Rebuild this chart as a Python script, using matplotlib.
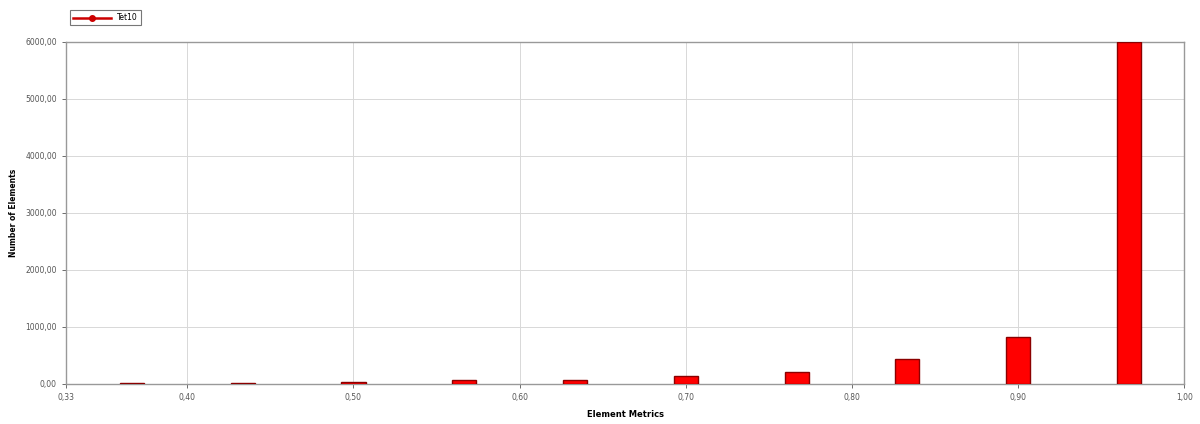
import matplotlib.pyplot as plt
from matplotlib.lines import Line2D
from matplotlib.ticker import FuncFormatter

# histogram of element quality (Tet10 mesh)
bin_centers = [0.3667, 0.4333, 0.5000, 0.5667, 0.6333, 0.7000, 0.7667, 0.8333, 0.9000, 0.9667]
counts = [15, 20, 30, 60, 65, 140, 210, 440, 826, 6000]
x_ticks = [0.327, 0.40, 0.50, 0.60, 0.70, 0.80, 0.90, 1.00]
y_ticks = [0, 1000, 2000, 3000, 4000, 5000, 6000]
series_name = "Tet10"


def comma_fmt(v, pos):
    return ("%.2f" % v).replace(".", ",")


fig = plt.figure(figsize=(12, 4.24), dpi=100)
ax = fig.add_axes([0.055, 0.095, 0.932, 0.806])

ax.bar(bin_centers, counts, width=0.0145, color="#ff0000",
       edgecolor="#8b0000", linewidth=1.0, zorder=3)

ax.set_xlim(0.327, 1.0)
ax.set_ylim(0, 6000)
ax.set_xticks(x_ticks)
ax.set_yticks(y_ticks)
ax.xaxis.set_major_formatter(FuncFormatter(comma_fmt))
ax.yaxis.set_major_formatter(FuncFormatter(comma_fmt))
ax.tick_params(labelsize=5.5, colors="#555555", length=3, width=0.6)

ax.grid(True, color="#d8d8d8", linewidth=0.7, zorder=0)
for s in ax.spines.values():
    s.set_color("#999999")
    s.set_linewidth(1.0)

ax.set_xlabel("Element Metrics", fontsize=6, fontweight="bold", labelpad=6)
ax.set_ylabel("Number of Elements", fontsize=5.5, fontweight="bold", labelpad=5)

handle = Line2D([], [], color="#cc0000", linewidth=1.8, marker="o", markersize=4)
leg = fig.legend([handle], [series_name], loc="upper left",
                 bbox_to_anchor=(0.055, 0.985), fontsize=5.5, frameon=True,
                 fancybox=False, handlelength=5, borderpad=0.4)
leg.get_frame().set_edgecolor("#555555")
leg.get_frame().set_linewidth(0.8)

fig.savefig("out.png", dpi=100)
